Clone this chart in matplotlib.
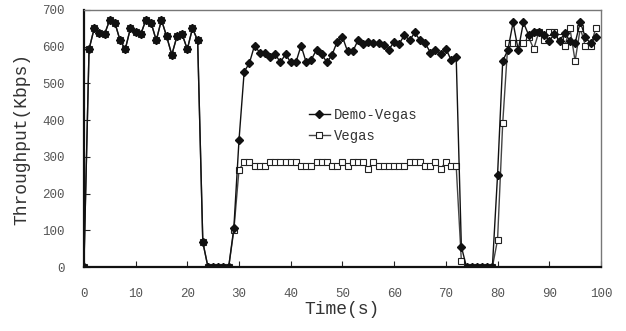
import matplotlib.pyplot as plt

t = list(range(100))

demo_vegas = [0, 593, 650, 638, 634, 673, 665, 617, 593, 650,
              641, 634, 673, 665, 617, 673, 628, 578, 628, 634,
              593, 650, 617, 68, 0, 0, 0, 0, 0, 106,
              346, 532, 555, 603, 584, 584, 573, 580, 557, 580,
              557, 557, 603, 557, 565, 592, 580, 557, 578, 614,
              627, 587, 587, 617, 608, 612, 610, 610, 605, 592,
              614, 608, 632, 617, 639, 617, 610, 584, 592, 581,
              595, 564, 573, 56, 0, 0, 0, 0, 0, 0,
              250, 561, 591, 666, 591, 666, 632, 639, 640, 632,
              616, 634, 616, 637, 616, 610, 667, 625, 609, 626]

# vegas overlaps demo-vegas for the first 29 seconds
vegas = demo_vegas[:29] + [
    100, 265,
    286, 286, 276, 276, 276, 286, 286, 286, 286, 286,
    286, 276, 276, 276, 286, 286, 286, 276, 276, 286,
    276, 286, 286, 286, 268, 286, 276, 276, 276, 276,
    276, 276, 286, 286, 286, 276, 276, 286, 268, 286,
    276, 276,
    17, 0, 0, 0, 0, 0, 0, 74, 392,
    609, 609, 609, 609, 626, 594, 641, 619, 640, 641,
    627, 602, 650, 561, 650, 602, 602, 650]

plt.rcParams['font.family'] = ['Liberation Mono', 'DejaVu Sans Mono']

fig = plt.figure(figsize=(6.26, 3.31), dpi=100)
ax = fig.add_axes([0.134, 0.193, 0.826, 0.777])

ax.plot(t, vegas, color='#444444', lw=1, marker='s', ms=4, mfc='white',
        mec='#222222', mew=0.8, label='Vegas', zorder=2)
ax.plot(t, demo_vegas, color='#111111', lw=1, marker='D', ms=4.5,
        mfc='#111111', mec='#111111', label='Demo-Vegas', zorder=3)

ax.set_xlim(0, 100)
ax.set_ylim(0, 700)
ax.set_xticks(range(0, 101, 10))
ax.set_yticks(range(0, 701, 100))
ax.tick_params(direction='in', length=4, labelsize=9, labelcolor='#555555',
               color='#222222')
ax.tick_params(axis='x', pad=15)
ax.tick_params(axis='y', pad=14)

for s in ['top', 'right']:
    ax.spines[s].set_color('#777777')
    ax.spines[s].set_linewidth(1)
for s in ['left', 'bottom']:
    ax.spines[s].set_color('#111111')
    ax.spines[s].set_linewidth(1.6)

ax.set_xlabel('Time(s)', fontsize=13, color='#333333', labelpad=1)
ax.set_ylabel('Throughput(Kbps)', fontsize=13, color='#333333', labelpad=8)

h, l = ax.get_legend_handles_labels()
ax.legend(h[::-1], l[::-1], loc='center', bbox_to_anchor=(0.54, 0.55),
          frameon=False, fontsize=10, handlelength=1.5, handletextpad=0.3,
          labelcolor='#333333')

fig.savefig('out.png', dpi=100)
